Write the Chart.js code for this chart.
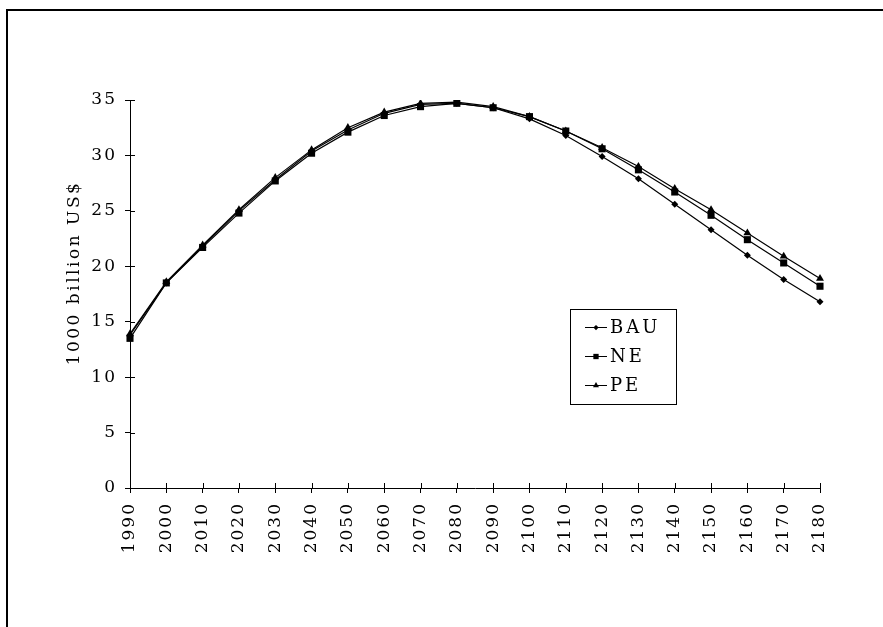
<!DOCTYPE html>
<html>
<head>
<meta charset="utf-8">
<script src="https://cdn.jsdelivr.net/npm/chart.js@4/dist/chart.umd.min.js"></script>
<style>
  html, body { margin: 0; padding: 0; background: #fff; }
  #wrap { position: relative; width: 883px; height: 627px; overflow: hidden; }
  #frame { position: absolute; left: 6px; top: 9px; width: 900px; height: 700px;
           border-top: 2px solid #000; border-left: 2px solid #000; }
  #grafik { position: absolute; left: 0; top: 0; }
</style>
</head>
<body>
<div id="wrap">
  <div id="frame"></div>
  <canvas id="grafik" width="883" height="627"></canvas>
</div>
<script>
// --- data ---
const tahun = ['1990', '2000', '2010', '2020', '2030', '2040', '2050', '2060', '2070', '2080',
               '2090', '2100', '2110', '2120', '2130', '2140', '2150', '2160', '2170', '2180'];
const nilaiBAU = [13.8, 18.5, 21.8, 25.0, 27.8, 30.4, 32.3, 33.8, 34.6, 34.7,
                  34.3, 33.3, 31.8, 29.9, 27.9, 25.6, 23.3, 21.0, 18.8, 16.8];
const nilaiNE  = [13.5, 18.5, 21.7, 24.8, 27.7, 30.2, 32.1, 33.6, 34.4, 34.7,
                  34.3, 33.5, 32.2, 30.6, 28.7, 26.7, 24.6, 22.4, 20.3, 18.2];
const nilaiPE  = [13.9, 18.6, 21.9, 25.1, 28.0, 30.5, 32.5, 33.9, 34.7, 34.8,
                  34.4, 33.5, 32.2, 30.7, 29.0, 27.0, 25.1, 23.0, 20.9, 18.9];
const judulY = '1000 billion US$';
const labelSeri = ['BAU', 'NE', 'PE'];

const HURUF = 'DejaVu Serif';
const UKURAN = 17;
const SPASI = '2px';

// letter spacing supaya mirip huruf aslinya
const pluginSpasi = {
    id: 'spasi',
    beforeLayout(chart) { chart.ctx.letterSpacing = SPASI; },
    beforeDraw(chart) { chart.ctx.letterSpacing = SPASI; }
};

// tick yang menyilang sumbu (bagian dalam)
const pluginTickDalam = {
    id: 'tickDalam',
    afterDraw(chart) {
        const ctx = chart.ctx;
        const sx = chart.scales.x, sy = chart.scales.y;
        ctx.save();
        ctx.strokeStyle = '#000';
        ctx.lineWidth = 1;
        ctx.beginPath();
        sx.ticks.forEach((t, i) => {
            const px = Math.round(sx.getPixelForTick(i)) + 0.5;
            ctx.moveTo(px, sy.bottom);
            ctx.lineTo(px, sy.bottom - 5);
        });
        sy.ticks.forEach((t, i) => {
            const py = Math.round(sy.getPixelForTick(i)) + 0.5;
            ctx.moveTo(sx.left, py);
            ctx.lineTo(sx.left + 5, py);
        });
        ctx.stroke();
        ctx.restore();
    }
};

// judul sumbu Y
const pluginJudulY = {
    id: 'judulY',
    afterDraw(chart) {
        const ctx = chart.ctx;
        ctx.save();
        ctx.letterSpacing = '2.5px';
        ctx.font = UKURAN + 'px "' + HURUF + '"';
        ctx.fillStyle = '#000';
        ctx.textAlign = 'center';
        ctx.textBaseline = 'middle';
        ctx.translate(75, 273);
        ctx.rotate(-Math.PI / 2);
        ctx.fillText(judulY, 0, 0);
        ctx.restore();
    }
};

// legenda dalam kotak
const pluginLegenda = {
    id: 'legendaKotak',
    afterDraw(chart) {
        const ctx = chart.ctx;
        const ca = chart.chartArea;
        const kiri = ca.left + 440, atas = ca.top + 209;
        ctx.save();
        ctx.fillStyle = '#fff';
        ctx.fillRect(kiri, atas, 106, 95);
        ctx.strokeStyle = '#000';
        ctx.lineWidth = 1;
        ctx.strokeRect(kiri + 0.5, atas + 0.5, 106, 95);
        ctx.letterSpacing = '3px';
        ctx.font = (UKURAN + 1) + 'px "' + HURUF + '"';
        ctx.textBaseline = 'middle';
        ctx.textAlign = 'left';
        chart.data.datasets.forEach((ds, i) => {
            const y = atas + 18 + i * 29;
            ctx.beginPath();
            ctx.moveTo(kiri + 15, y + 0.5);
            ctx.lineTo(kiri + 37, y + 0.5);
            ctx.strokeStyle = '#000';
            ctx.stroke();
            ctx.fillStyle = '#000';
            Chart.helpers.drawPoint(ctx, {
                pointStyle: ds.pointStyle, radius: ds.pointRadius * 0.75,
                rotation: 0, borderWidth: 0
            }, kiri + 26, y + 0.5);
            ctx.fillStyle = '#000';
            ctx.fillText(ds.label, kiri + 40, y + 1);
        });
        ctx.restore();
    }
};

function buatSeri(label, data, gaya, r) {
    return {
        label: label,
        data: data,
        borderColor: '#000',
        backgroundColor: '#000',
        borderWidth: 1.2,
        pointStyle: gaya,
        pointRadius: r,
        pointBorderWidth: 0,
        pointBackgroundColor: '#000',
        tension: 0
    };
}

const ctx = document.getElementById('grafik').getContext('2d');
const grafik = new Chart(ctx, {
    type: 'line',
    data: {
        labels: tahun,
        datasets: [
            buatSeri(labelSeri[0], nilaiBAU, 'rectRot', 3.5),
            buatSeri(labelSeri[1], nilaiNE, 'rect', 5),
            buatSeri(labelSeri[2], nilaiPE, 'triangle', 4.6)
        ]
    },
    options: {
        responsive: false,
        animation: false,
        devicePixelRatio: 1,
        layout: { padding: { left: 0, top: 100, right: 63, bottom: 59 } },
        plugins: {
            legend: { display: false },
            tooltip: { enabled: false }
        },
        scales: {
            x: {
                offset: false,
                grid: { drawOnChartArea: false, tickLength: 5, color: '#000', lineWidth: 1 },
                border: { color: '#000', width: 1 },
                ticks: {
                    color: '#000', padding: 9, minRotation: 90, maxRotation: 90,
                    autoSkip: false, font: { family: HURUF, size: UKURAN }
                },
                afterFit(scale) { scale.height = 80; }
            },
            y: {
                min: 0, max: 35,
                grid: { drawOnChartArea: false, tickLength: 5, color: '#000', lineWidth: 1 },
                border: { color: '#000', width: 1 },
                ticks: {
                    stepSize: 5, color: '#000', padding: 8,
                    font: { family: HURUF, size: UKURAN }
                },
                afterFit(scale) { scale.width = 130; }
            }
        }
    },
    plugins: [pluginSpasi, pluginTickDalam, pluginJudulY, pluginLegenda]
});
</script>
</body>
</html>
